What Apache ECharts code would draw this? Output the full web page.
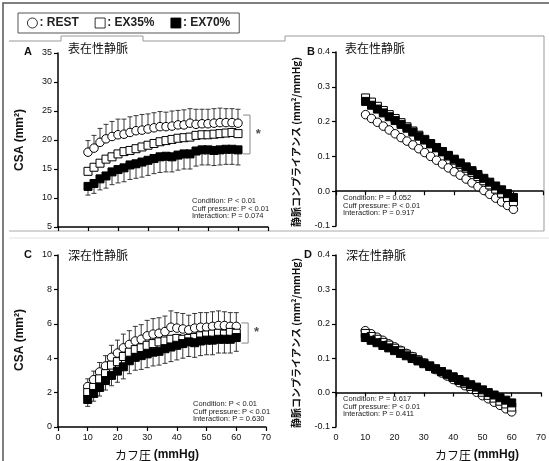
<!DOCTYPE html>
<html>
<head>
<meta charset="utf-8">
<script src="https://cdn.jsdelivr.net/npm/echarts@6/dist/echarts.min.js"></script>
<style>
  html, body { margin: 0; padding: 0; background: #fff; }
  #chart { width: 549px; height: 461px; }
</style>
</head>
<body>
<div id="chart"></div>
<script>
// cuff pressure (mmHg)
const cuff = [10, 12, 14, 16, 18, 20, 22, 24, 26, 28, 30, 32, 34, 36, 38, 40, 42, 44, 46, 48, 50, 52, 54, 56, 58, 60];

// A: superficial vein CSA (mm2)
const aRest = [17.9, 18.6, 19.6, 20.2, 20.6, 20.9, 21.0, 21.3, 21.6, 21.7, 21.9, 22.1, 22.3, 22.3, 22.4, 22.6, 22.6, 22.9, 22.7, 22.8, 22.8, 22.9, 23.0, 23.0, 23.0, 22.9];
const aEx35 = [14.6, 15.3, 16.0, 16.7, 17.1, 17.6, 18.0, 18.2, 18.5, 18.8, 19.1, 19.4, 19.7, 19.9, 20.1, 20.3, 20.4, 20.5, 20.8, 20.9, 20.9, 21.0, 21.1, 21.2, 21.3, 21.1];
const aEx70 = [12.0, 12.5, 13.3, 13.8, 14.5, 14.9, 15.2, 15.7, 15.9, 16.2, 16.5, 16.8, 17.1, 17.2, 17.1, 17.4, 17.6, 17.6, 18.1, 18.3, 18.3, 18.2, 18.3, 18.4, 18.4, 18.3];
const aRestSd = [2.0, 2.2, 2.4, 2.5, 2.6, 2.7, 2.6, 2.7, 2.6, 2.7, 2.6, 2.6, 2.6, 2.5, 2.6, 2.5, 2.6, 2.5, 2.6, 2.5, 2.5, 2.5, 2.5, 2.4, 2.4, 2.4];
const aEx70Sd = [1.5, 1.7, 1.9, 2.1, 2.2, 2.3, 2.4, 2.5, 2.5, 2.6, 2.6, 2.6, 2.7, 2.7, 2.6, 2.6, 2.6, 2.6, 2.6, 2.6, 2.6, 2.6, 2.6, 2.6, 2.6, 2.6];

// B: superficial vein compliance (mm2/mmHg)
const bRest = [0.220, 0.209, 0.198, 0.187, 0.176, 0.165, 0.154, 0.144, 0.133, 0.122, 0.111, 0.100, 0.089, 0.078, 0.067, 0.056, 0.046, 0.035, 0.024, 0.013, 0.002, -0.009, -0.020, -0.031, -0.041, -0.052];
const bEx35 = [0.268, 0.256, 0.244, 0.232, 0.220, 0.209, 0.197, 0.185, 0.173, 0.161, 0.149, 0.137, 0.125, 0.113, 0.101, 0.089, 0.077, 0.066, 0.054, 0.042, 0.030, 0.018, 0.006, -0.006, -0.018, -0.030];
const bEx70 = [0.258, 0.247, 0.236, 0.225, 0.214, 0.203, 0.192, 0.181, 0.170, 0.158, 0.147, 0.136, 0.125, 0.114, 0.103, 0.092, 0.081, 0.070, 0.059, 0.048, 0.037, 0.026, 0.015, 0.004, -0.007, -0.018];

// C: deep vein CSA (mm2)
const cRest = [2.35, 2.75, 3.2, 3.55, 4.05, 4.3, 4.6, 4.8, 5.0, 5.1, 5.3, 5.4, 5.45, 5.55, 5.8, 5.75, 5.7, 5.65, 5.75, 5.8, 5.8, 5.85, 5.9, 5.9, 5.85, 5.85];
const cEx35 = [2.0, 2.3, 2.8, 3.1, 3.6, 3.8, 4.1, 4.35, 4.5, 4.6, 4.75, 4.85, 4.95, 5.0, 5.1, 5.15, 5.1, 5.15, 5.2, 5.3, 5.35, 5.4, 5.45, 5.4, 5.5, 5.45];
const cEx70 = [1.6, 1.95, 2.3, 2.7, 3.0, 3.25, 3.5, 3.85, 4.05, 4.15, 4.25, 4.35, 4.4, 4.55, 4.65, 4.75, 4.85, 4.95, 4.9, 5.0, 5.05, 5.05, 5.1, 5.1, 5.1, 5.2];
const cRestSd = [0.45, 0.5, 0.55, 0.6, 0.7, 0.75, 0.8, 0.8, 0.85, 0.85, 0.9, 0.9, 0.9, 0.9, 0.95, 0.9, 0.9, 0.85, 0.85, 0.85, 0.85, 0.85, 0.85, 0.8, 0.8, 0.8];
const cEx70Sd = [0.4, 0.45, 0.5, 0.55, 0.6, 0.65, 0.7, 0.75, 0.75, 0.8, 0.8, 0.8, 0.8, 0.85, 0.85, 0.85, 0.85, 0.85, 0.85, 0.85, 0.85, 0.85, 0.8, 0.8, 0.8, 0.8];

// D: deep vein compliance (mm2/mmHg)
const dRest = [0.180, 0.171, 0.161, 0.152, 0.142, 0.133, 0.123, 0.114, 0.105, 0.095, 0.086, 0.076, 0.067, 0.057, 0.048, 0.038, 0.029, 0.020, 0.010, 0.001, -0.009, -0.018, -0.028, -0.037, -0.047, -0.056];
const dEx35 = [0.172, 0.163, 0.155, 0.146, 0.138, 0.129, 0.121, 0.112, 0.104, 0.095, 0.086, 0.078, 0.069, 0.061, 0.052, 0.044, 0.035, 0.027, 0.018, 0.009, 0.001, -0.008, -0.016, -0.025, -0.033, -0.042];
const dEx70 = [0.160, 0.152, 0.145, 0.137, 0.130, 0.122, 0.114, 0.107, 0.099, 0.092, 0.084, 0.076, 0.069, 0.061, 0.054, 0.046, 0.038, 0.031, 0.023, 0.016, 0.008, 0.000, -0.007, -0.015, -0.022, -0.030];

// significance brackets [x, y]
const aBracket = [[61.7, 24.3], [64, 24.3], [64, 17.6], [61.7, 17.6]];
const cBracket = [[61.7, 6.05], [64, 6.05], [64, 4.88], [61.7, 4.88]];
const aStar = [66.8, 20.9];
const cStar = [66.8, 5.47];

const stats = {
  A: ['Condition: P < 0.01', 'Cuff pressure: P < 0.01', 'Interaction: P = 0.074'],
  B: ['Condition: P = 0.052', 'Cuff pressure: P < 0.01', 'Interaction: P = 0.917'],
  C: ['Condition: P < 0.01', 'Cuff pressure: P < 0.01', 'Interaction: P = 0.630'],
  D: ['Condition: P = 0.617', 'Cuff pressure: P < 0.01', 'Interaction: P = 0.411']
};

const latin = '"Liberation Sans", Arial, sans-serif';
const jp = '"Noto Sans CJK JP", sans-serif';

const chart = echarts.init(document.getElementById('chart'));

const pair = (ys) => cuff.map((x, i) => [x, ys[i]]);

function xAxisOf(gi, showLabel) {
  return {
    gridIndex: gi, type: 'value', min: 0, max: 70, interval: 10,
    axisLine: { lineStyle: { color: '#000', width: 1.5 } },
    axisTick: { show: true, length: 4, lineStyle: { color: '#000', width: 1.2 } },
    axisLabel: { show: showLabel, fontFamily: latin, fontSize: 9, color: '#111', margin: 6 },
    splitLine: { show: false }
  };
}
function yAxisOf(gi, min, max, step, digits) {
  return {
    gridIndex: gi, type: 'value', min: min, max: max, interval: step,
    axisLine: { show: true, lineStyle: { color: '#000', width: 1.5 } },
    axisTick: { show: true, length: 4, lineStyle: { color: '#000', width: 1.2 } },
    axisLabel: { fontFamily: latin, fontSize: 9, color: '#111', margin: 6,
      formatter: v => v.toFixed(digits) },
    splitLine: { show: false }
  };
}

function dots(gi, name, ys, kind, z) {
  const styles = {
    rest: { symbol: 'circle', size: 8.5, color: '#fff' },
    ex35: { symbol: 'rect', size: 8, color: '#fff' },
    ex70: { symbol: 'rect', size: 8, color: '#000' }
  }[kind];
  return {
    type: 'scatter', name: name, xAxisIndex: gi, yAxisIndex: gi,
    symbol: styles.symbol, symbolSize: styles.size, z: z,
    itemStyle: { color: styles.color, borderColor: '#000', borderWidth: 1, opacity: 1 },
    emphasis: { disabled: true },
    data: pair(ys)
  };
}

function errBars(gi, means, sds, dir) {
  return {
    type: 'custom', xAxisIndex: gi, yAxisIndex: gi, z: 1, silent: true,
    data: cuff.map((x, i) => [x, means[i], means[i] + dir * sds[i]]),
    renderItem: (params, api) => {
      const p0 = api.coord([api.value(0), api.value(1)]);
      const p1 = api.coord([api.value(0), api.value(2)]);
      const st = { stroke: '#222', lineWidth: 0.9 };
      return {
        type: 'group',
        children: [
          { type: 'line', shape: { x1: p0[0], y1: p0[1], x2: p1[0], y2: p1[1] }, style: st },
          { type: 'line', shape: { x1: p1[0] - 2.5, y1: p1[1], x2: p1[0] + 2.5, y2: p1[1] }, style: st }
        ]
      };
    }
  };
}

function bracket(gi, pts, star) {
  return [{
    type: 'line', xAxisIndex: gi, yAxisIndex: gi, data: pts, symbol: 'none',
    lineStyle: { color: '#888', width: 1 }, silent: true, z: 1
  }, {
    type: 'scatter', xAxisIndex: gi, yAxisIndex: gi, data: [star], symbolSize: 0, silent: true,
    label: { show: true, formatter: '*', position: 'inside', fontFamily: latin,
      fontSize: 13, fontWeight: 'bold', color: '#222' }
  }];
}

function statText(x, y, lines) {
  return {
    type: 'text', left: x, top: y, silent: true,
    style: { text: lines.join('\n'), font: '7.5px ' + latin, lineHeight: 7.6, fill: '#222' }
  };
}
function plain(x, y, text, font, extra) {
  return Object.assign({ type: 'text', x: x, y: y, silent: true,
    style: Object.assign({ text: text, font: font, fill: '#111', textAlign: 'left', textVerticalAlign: 'middle' }, extra || {}) });
}
function vTitle(x, y, text, font) {
  return { type: 'text', x: x, y: y, rotation: Math.PI / 2, silent: true,
    style: { text: text, font: font, fill: '#111', textAlign: 'center', textVerticalAlign: 'middle' } };
}
function xTitle(x, y) {
  return { type: 'text', x: x, y: y, silent: true,
    style: { text: '{a|カフ圧 }{b|(mmHg)}', textAlign: 'center', textVerticalAlign: 'middle',
      rich: { a: { fontFamily: jp, fontSize: 12, fill: '#111' },
              b: { fontFamily: latin, fontSize: 12, fontWeight: 'bold', fill: '#111' } } } };
}

const frame = { stroke: '#999', lineWidth: 1, fill: null };

chart.setOption({
  animation: false,
  backgroundColor: '#fff',
  legend: {
    left: 18, top: 13, padding: [4, 9, 4, 9],
    borderColor: '#555', borderWidth: 1,
    itemWidth: 10, itemHeight: 10, itemGap: 16,
    data: ['REST', 'EX35%', 'EX70%'],
    formatter: n => ': ' + n,
    itemStyle: { borderWidth: 0.8 },
    textStyle: { fontFamily: latin, fontSize: 12, fontWeight: 'bold', color: '#222', padding: [0, 0, 0, -3] },
    selectedMode: false
  },
  grid: [
    { left: 58, top: 53, width: 210, height: 174 },
    { left: 336, top: 52, width: 207, height: 174 },
    { left: 58, top: 255, width: 208, height: 172 },
    { left: 336, top: 255, width: 206, height: 172 }
  ],
  xAxis: [xAxisOf(0, false), xAxisOf(1, false), xAxisOf(2, true), xAxisOf(3, true)],
  yAxis: [yAxisOf(0, 5, 35, 5, 0), yAxisOf(1, -0.1, 0.4, 0.1, 1), yAxisOf(2, 0, 10, 2, 0), yAxisOf(3, -0.1, 0.4, 0.1, 1)],
  series: [
    errBars(0, aRest, aRestSd, 1),
    errBars(0, aEx70, aEx70Sd, -1),
    dots(0, 'REST', aRest, 'rest', 3),
    dots(0, 'EX35%', aEx35, 'ex35', 4),
    dots(0, 'EX70%', aEx70, 'ex70', 5),
    ...bracket(0, aBracket, aStar),
    dots(1, 'REST', bRest, 'rest', 3),
    dots(1, 'EX35%', bEx35, 'ex35', 4),
    dots(1, 'EX70%', bEx70, 'ex70', 5),
    errBars(2, cRest, cRestSd, 1),
    errBars(2, cEx70, cEx70Sd, -1),
    dots(2, 'REST', cRest, 'rest', 3),
    dots(2, 'EX35%', cEx35, 'ex35', 4),
    dots(2, 'EX70%', cEx70, 'ex70', 5),
    ...bracket(2, cBracket, cStar),
    dots(3, 'REST', dRest, 'rest', 3),
    dots(3, 'EX35%', dEx35, 'ex35', 4),
    dots(3, 'EX70%', dEx70, 'ex70', 5)
  ],
  graphic: [
    // figure frame
    { type: 'polyline', silent: true, shape: { points: [[3, 461], [3, 3], [549, 3]] }, style: { stroke: '#555', lineWidth: 1.5, fill: null } },
    { type: 'polyline', silent: true, shape: { points: [[9, 41], [61, 41], [61, 36], [143, 36], [143, 41], [285, 41], [285, 36], [544, 36], [544, 231]] }, style: frame },
    { type: 'line', silent: true, shape: { x1: 9, y1: 231, x2: 544, y2: 231 }, style: { stroke: '#aaa', lineWidth: 1 } },
    { type: 'line', silent: true, shape: { x1: 9, y1: 238, x2: 549, y2: 238 }, style: { stroke: '#e2e2e2', lineWidth: 1 } },
    // panel letters
    plain(24, 52, 'A', 'bold 11px ' + latin),
    plain(307, 52, 'B', 'bold 11px ' + latin),
    plain(24, 255, 'C', 'bold 11px ' + latin),
    plain(304, 255, 'D', 'bold 11px ' + latin),
    // panel titles
    plain(68, 48, '表在性静脈', '12px ' + jp),
    plain(345, 48, '表在性静脈', '12px ' + jp),
    plain(68, 255, '深在性静脈', '12px ' + jp),
    plain(346, 255, '深在性静脈', '12px ' + jp),
    // axis titles
    vTitle(20, 140, 'CSA (mm²)', 'bold 12px ' + latin),
    vTitle(20, 340, 'CSA (mm²)', 'bold 12px ' + latin),
    vTitle(296, 142, '静脈コンプライアンス (mm²/mmHg)', 'bold 10px ' + jp),
    vTitle(296, 343, '静脈コンプライアンス (mm²/mmHg)', 'bold 10px ' + jp),
    xTitle(157, 455),
    xTitle(477, 455),
    // statistics
    statText(192, 197, stats.A),
    statText(343, 194, stats.B),
    statText(193, 400, stats.C),
    statText(343, 395, stats.D)
  ]
});
</script>
</body>
</html>
